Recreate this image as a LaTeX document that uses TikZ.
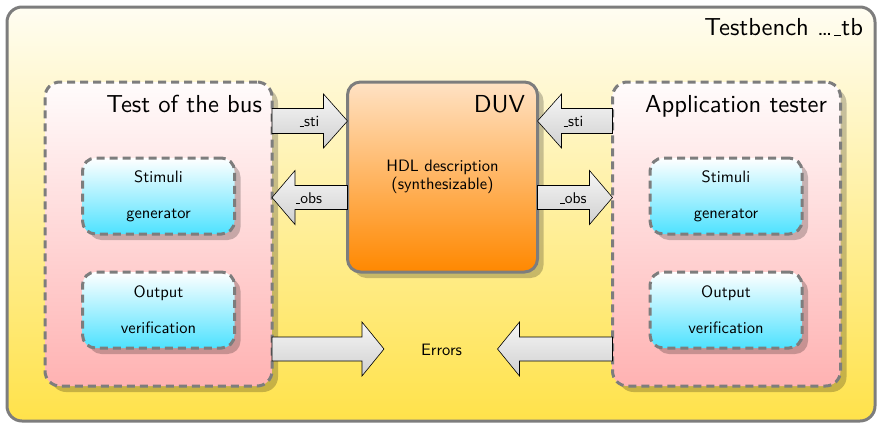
\documentclass[tikz,border=0pt]{standalone}
\usepackage{fontspec}
\setsansfont{lmsans10-regular.otf}
\usetikzlibrary{shadows,calc}

\definecolor{framegray}{RGB}{125,125,125}
\definecolor{benchtop}{RGB}{255,253,242}
\definecolor{benchbot}{RGB}{255,226,74}
\definecolor{blocktop}{RGB}{255,252,252}
\definecolor{blockbot}{RGB}{255,178,178}
\definecolor{unittop}{RGB}{255,255,255}
\definecolor{unitbot}{RGB}{78,226,255}
\definecolor{duvtop}{RGB}{255,226,196}
\definecolor{duvbot}{RGB}{255,136,0}
\definecolor{arrtop}{RGB}{246,246,246}
\definecolor{arrbot}{RGB}{208,208,208}

% short baseline rule used as underscore in signal names
\newcommand{\usc}{\leavevmode\kern.06em\vbox{\hrule width.3em}}

% block arrow from tail #1 to tip #2 (horizontal):
% #3 shaft half-height, #4 head half-height, #5 head length
\newcommand{\blockarrow}[5]{%
  \shadedraw[blockarrowstyle] let \p1=(#1), \p2=(#2), \n1={sign(\x2-\x1)} in
    (\x1,\y1+#3) -- (\x2-\n1*#5,\y1+#3) -- (\x2-\n1*#5,\y1+#4) -- (\x2,\y2)
    -- (\x2-\n1*#5,\y1-#4) -- (\x2-\n1*#5,\y1-#3) -- (\x1,\y1-#3) -- cycle;}

\begin{document}
\begin{tikzpicture}[x=1pt,y=-1pt,
  every node/.style={inner sep=0pt,outer sep=0pt},
  boxshadow/.style={general shadow={fill=black,opacity=0.22,
      shadow xshift=6pt,shadow yshift=-6pt}},
  benchbox/.style={draw=framegray,line width=3pt,rounded corners=15pt,
      top color=benchtop,bottom color=benchbot},
  blockbox/.style={draw=framegray,line width=3pt,dash pattern=on 8pt off 5pt,
      rounded corners=15pt,top color=blocktop,bottom color=blockbot,boxshadow},
  unitbox/.style={draw=framegray,line width=3pt,dash pattern=on 8pt off 5pt,
      rounded corners=13pt,top color=unittop,bottom color=unitbot,boxshadow,
      minimum width=152pt,minimum height=76pt,align=center,
      font=\sffamily\fontsize{16.5}{36}\selectfont},
  duvbox/.style={draw=framegray,line width=3pt,rounded corners=13pt,
      top color=duvtop,bottom color=duvbot,boxshadow,align=center,
      font=\sffamily\fontsize{16.5}{18.5}\selectfont},
  title/.style={anchor=base east,font=\sffamily\fontsize{24.6}{28}\selectfont},
  arrowlabel/.style={anchor=base,font=\sffamily\fontsize{15.5}{18}\selectfont},
  blockarrowstyle/.style={draw=black,line width=0.6pt,top color=arrtop,
      bottom color=arrbot,line join=miter},
]
\useasboundingbox (0,0) rectangle (877,426);

% testbench frame
\node[benchbox,minimum width=868pt,minimum height=414pt] (bench) at (441,214) {};
\node[title] (benchtitle) at (863,35) {Testbench \ldots\usc tb};

% bus test block
\node[blockbox,minimum width=227pt,minimum height=304pt] (lbus) at (158.5,234) {};
\node[title] (lbustitle) at (262,112) {Test of the bus};
\node[unitbox] (lstim) at (158.5,196) {Stimuli\\generator};
\node[unitbox] (lverif) at (158.5,310) {Output\\verification};

% application tester block
\node[blockbox,minimum width=228pt,minimum height=304pt] (rapp) at (726.5,234) {};
\node[title] (rapptitle) at (827,112) {Application tester};
\node[unitbox] (rstim) at (726,196) {Stimuli\\generator};
\node[unitbox] (rverif) at (726,310) {Output\\verification};

% device under verification
\node[duvbox,minimum width=190pt,minimum height=190pt] (duv) at (442.5,177)
  {HDL description\\(synthesizable)};
\node[title] (duvtitle) at (525,112) {DUV};

% error collection
\node[anchor=base,font=\sffamily\fontsize{16.5}{20}\selectfont] (errors)
  at (441.5,355) {Errors};

% arrow end points
\coordinate (lsti-tail) at (lbus.east |- 0,121);
\coordinate (lsti-tip)  at (duv.west |- 0,121);
\coordinate (lobs-tail) at (duv.west |- 0,197.5);
\coordinate (lobs-tip)  at (lbus.east |- 0,197.5);
\coordinate (rsti-tail) at (rapp.west |- 0,121);
\coordinate (rsti-tip)  at (duv.east |- 0,121);
\coordinate (robs-tail) at (duv.east |- 0,197.5);
\coordinate (robs-tip)  at (rapp.west |- 0,197.5);
\coordinate (lerr-tail) at (lbus.east |- 0,349);
\coordinate (lerr-tip)  at ($(errors.center |- 0,349)+(-57.5,0)$);
\coordinate (rerr-tail) at (rapp.west |- 0,349);
\coordinate (rerr-tip)  at ($(errors.center |- 0,349)+(56,0)$);

% signal arrows
\blockarrow{lsti-tail}{lsti-tip}{12.5pt}{27pt}{24pt}
\blockarrow{lobs-tail}{lobs-tip}{12pt}{27pt}{23pt}
\blockarrow{rsti-tail}{rsti-tip}{12.5pt}{27pt}{24pt}
\blockarrow{robs-tail}{robs-tip}{12pt}{27pt}{23pt}
\blockarrow{lerr-tail}{lerr-tip}{12pt}{27pt}{22pt}
\blockarrow{rerr-tail}{rerr-tip}{12pt}{27pt}{22pt}

\node[arrowlabel] (lstilabel) at (309,126.5) {\usc sti};
\node[arrowlabel] (lobslabel) at (308.5,203) {\usc obs};
\node[arrowlabel] (rstilabel) at (573,126.5) {\usc sti};
\node[arrowlabel] (robslabel) at (573,203) {\usc obs};
\end{tikzpicture}
\end{document}
